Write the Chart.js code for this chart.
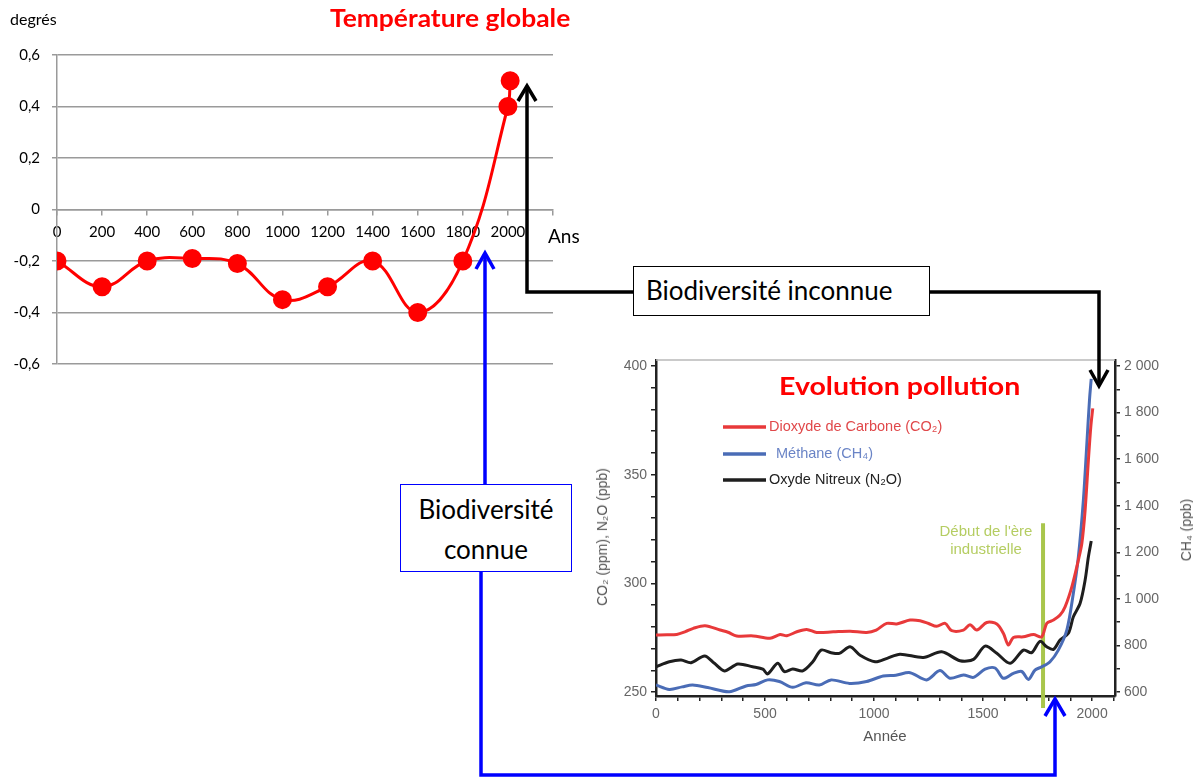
<!DOCTYPE html>
<html lang="fr">
<head>
<meta charset="utf-8">
<title>Température globale et évolution de la pollution</title>
<script src="https://cdn.jsdelivr.net/npm/chart.js@4.4.1/dist/chart.umd.min.js"></script>
<style>
  html, body { margin: 0; padding: 0; background: #ffffff; }
  #stage { position: relative; width: 1193px; height: 779px; overflow: hidden; background: #ffffff; }
  #stage canvas { position: absolute; }
  .txt { position: absolute; white-space: nowrap; line-height: 1; }
  .cal { font-family: Lato, "Open Sans", sans-serif; }
  .hel { font-family: "Liberation Sans", Arial, sans-serif; }
  .wide { transform-origin: 0 0; }
  .box { position: absolute; background: #ffffff; box-sizing: border-box; font-family: Lato, "Open Sans", sans-serif; color: #000; }
  svg { position: absolute; left: 0; top: 0; pointer-events: none; }
</style>
</head>
<body>
<div id="stage">
  <canvas id="tempChart" width="600" height="400" style="left:0;top:0"></canvas>
  <canvas id="pollChart" width="603" height="400" style="left:590px;top:340px"></canvas>

  <div class="txt cal" style="left:10px;top:11px;font-size:16px;color:#000">degrés</div>
  <div class="txt cal wide" style="left:330px;top:6px;font-size:24px;font-weight:700;color:#ff0000;transform:scaleX(1.1)">Température globale</div>
  <div class="txt cal" style="left:548px;top:226px;font-size:19px;color:#000">Ans</div>

  <div class="txt cal wide" style="left:779px;top:373px;font-size:25px;font-weight:700;color:#ff0000;transform:scaleX(1.14)">Evolution pollution</div>
  <div class="txt hel" style="left:926px;top:522px;width:120px;text-align:center;font-size:15px;line-height:18px;color:#b5cd62;white-space:normal">Début de l'ère industrielle</div>
  <div class="txt hel" style="left:602px;top:537px;font-size:14px;color:#555;transform:translate(-50%,-50%) rotate(-90deg)">CO₂ (ppm), N₂O (ppb)</div>
  <div class="txt hel" style="left:1186px;top:530px;font-size:14px;color:#555;transform:translate(-50%,-50%) rotate(-90deg)">CH₄ (ppb)</div>
  <div class="txt hel" style="left:885px;top:735px;font-size:15px;color:#555;transform:translate(-50%,-50%)">Année</div>

  <svg width="1193" height="779" viewBox="0 0 1193 779">
    <g fill="none" stroke="#000000" stroke-width="3.5">
      <polyline points="527,88 527,292 633,292"/>
      <polyline points="518,101 527,86 536,101"/>
      <polyline points="929,292 1099,292 1099,385"/>
      <polyline points="1090,370 1099,386 1108,370"/>
    </g>
    <g fill="none" stroke="#0000ff" stroke-width="3.5">
      <polyline points="485,484 485,254"/>
      <polyline points="476,269 485,253 494,269"/>
      <polyline points="481,571 481,775 1055,775 1055,700"/>
      <polyline points="1045,716 1055,699 1065,716"/>
    </g>
  </svg>

  <div class="box" style="left:633px;top:266px;width:297px;height:50px;border:1.2px solid #000;font-size:26px;line-height:47px;padding-left:12px">Biodiversité inconnue</div>
  <div class="box" style="left:400px;top:484px;width:172px;height:88px;border:1.5px solid #0000ff;font-size:26px;line-height:40px;padding-top:4px;text-align:center">Biodiversité<br>connue</div>
</div>

<script>
// ---- Température globale (écart en degrés) ----
const tempYears  = [0, 200, 400, 600, 800, 1000, 1200, 1400, 1600, 1800, 2000, 2010];
const tempValues = [-0.2, -0.3, -0.2, -0.19, -0.21, -0.35, -0.3, -0.2, -0.4, -0.2, 0.4, 0.5];
const tempXTicks = [0, 200, 400, 600, 800, 1000, 1200, 1400, 1600, 1800, 2000, 2200];
const tempYTicks = [-0.6, -0.4, -0.2, 0, 0.2, 0.4, 0.6];
const tempYLabels = ['-0,6', '-0,4', '-0,2', '0', '0,2', '0,4', '0,6'];

// ---- Evolution des gaz : CO2 (ppm), CH4 (ppb), N2O (ppb) ----
const co2Years = [0, 50, 95, 135, 171, 225, 294, 330, 370, 446, 523, 569, 600, 646, 691, 737, 813, 890, 966, 1010,
  1058, 1104, 1165, 1211, 1250, 1287, 1326, 1356, 1410, 1440, 1471, 1517, 1563, 1593, 1616, 1639, 1685, 1731, 1769,
  1792, 1823, 1853, 1876, 1907, 1937, 1953, 1968, 1983, 1994, 2003];
const co2Ppm = [276.2, 276.3, 276.5, 277.8, 279.3, 280.5, 278.5, 277.5, 275.8, 275.8, 274.7, 276.5, 275.9, 277.7, 278.8, 277.4, 277.7, 278.0, 277.4, 278.5,
  281.6, 281.3, 283.1, 282.8, 281.5, 280.2, 281.6, 278.2, 278.5, 281.0, 278.5, 282.0, 281.3, 277.0, 271.6, 275.1, 275.4, 276.4, 275.4,
  281.6, 283.1, 285.4, 289.2, 298.4, 310.7, 318.4, 333.7, 356.7, 372.0, 380.5];

const ch4Years = [0, 61, 120, 168, 237, 336, 413, 459, 512, 566, 627, 688, 749, 803, 887, 966, 1042, 1100, 1165, 1241,
  1302, 1348, 1410, 1456, 1509, 1555, 1593, 1639, 1677, 1708, 1738, 1769, 1807, 1845, 1884, 1914, 1937, 1960, 1976, 1988, 1996];
const ch4Ppb = [630, 611, 622, 630, 619, 601, 626, 632, 652, 645, 620, 640, 630, 652, 637, 645, 669, 672, 683, 652,
  692, 659, 673, 663, 698, 703, 659, 680, 688, 654, 694, 708, 730, 780, 866, 1024, 1180, 1424, 1668, 1854, 1945];

const n2oYears = [0, 61, 115, 161, 223, 268, 314, 375, 443, 490, 512, 558, 589, 627, 673, 719, 757, 803, 841, 890,
  936, 1005, 1060, 1119, 1226, 1310, 1394, 1456, 1509, 1563, 1624, 1685, 1723, 1761, 1792, 1823, 1853, 1891, 1914, 1945, 1968, 1983, 1996];
const n2oPpb = [261.6, 263.9, 264.7, 263.5, 266.6, 263.2, 259.7, 262.9, 261.6, 260.5, 258.3, 263.2, 259.4, 260.6, 259.7, 263.9, 269.3, 268.1, 267.8, 270.8,
  266.9, 263.9, 265.5, 267.4, 265.9, 268.5, 264.4, 265.0, 271.1, 267.8, 263.2, 269.3, 268.1, 273.3, 270.8, 269.6, 273.9, 277.0, 284.6, 290.8, 301.5, 312.2, 319.5];

// start of the industrial era marker (year, extent on the left axis)
const industrialYear = 1775;
const industrialSpan = [242.6, 327.7];

const pollXTicks = [0, 100, 200, 300, 400, 500, 600, 700, 800, 900, 1000, 1100, 1200, 1300, 1400, 1500, 1600, 1700, 1800, 1900, 2000, 2100];
const pollLeftTicks = [250, 260, 270, 280, 290, 300, 310, 320, 330, 340, 350, 360, 370, 380, 390, 400];
const pollRightTicks = [600, 650, 700, 750, 800, 850, 900, 950, 1000, 1050, 1100, 1150, 1200, 1250, 1300, 1350, 1400,
  1450, 1500, 1550, 1600, 1650, 1700, 1750, 1800, 1850, 1900, 1950, 2000];

const legendLabels = ['Dioxyde de Carbone (CO₂)', 'Méthane (CH₄)', 'Oxyde Nitreux (N₂O)'];

const zip = (xs, ys) => xs.map((x, i) => ({ x: x, y: ys[i] }));
const setTicks = (values) => (scale) => { scale.ticks = values.map(v => ({ value: v })); };

// ---------- Chart 1 : température ----------
const calFont = { family: 'Lato, "Open Sans", sans-serif', size: 15 };

new Chart(document.getElementById('tempChart'), {
  type: 'line',
  data: {
    datasets: [{
      data: zip(tempYears, tempValues),
      borderColor: '#ff0000',
      backgroundColor: '#ff0000',
      borderWidth: 3,
      pointRadius: 8,
      pointHoverRadius: 8,
      pointBackgroundColor: '#ff0000',
      pointBorderColor: '#ff0000',
      tension: 0.4
    }]
  },
  options: {
    responsive: false,
    animation: false,
    events: [],
    layout: { padding: { top: 55, right: 47, bottom: 36, left: 0 } },
    plugins: { legend: { display: false }, tooltip: { enabled: false } },
    scales: {
      x: {
        type: 'linear',
        min: 0,
        max: 2200,
        position: { y: 0 },
        afterFit: (s) => { s.height = 0; },
        afterBuildTicks: setTicks(tempXTicks),
        grid: { drawOnChartArea: false, drawTicks: true, tickLength: 5, color: '#9a9a9a', lineWidth: 1.5 },
        border: { color: '#9a9a9a', width: 1.5 },
        ticks: {
          autoSkip: false, maxRotation: 0, padding: 9, color: '#000', font: calFont,
          callback: (v) => (v <= 2000 ? String(v) : '')
        }
      },
      y: {
        min: -0.6,
        max: 0.6,
        afterFit: (s) => { s.width = 57; },
        afterBuildTicks: setTicks(tempYTicks),
        grid: { color: '#9a9a9a', lineWidth: 1.5, tickLength: 5 },
        border: { color: '#9a9a9a', width: 1.5 },
        ticks: {
          padding: 12, color: '#000', font: calFont,
          callback: (v) => tempYLabels[tempYTicks.findIndex(t => Math.abs(t - v) < 1e-6)]
        }
      }
    }
  }
});

// ---------- Chart 2 : évolution pollution ----------
const helFont = { family: '"Liberation Sans", Arial, sans-serif', size: 14 };
const fmtThousands = (v) => (v >= 1000 ? Math.floor(v / 1000) + ' ' + String(v % 1000).padStart(3, '0') : String(v));

const frameAndLegend = {
  id: 'frameAndLegend',
  beforeDatasetsDraw(chart) {
    const { ctx, chartArea } = chart;
    ctx.save();
    ctx.strokeStyle = '#b8b8b8';
    ctx.lineWidth = 1.5;
    ctx.beginPath();
    ctx.moveTo(chartArea.left, chartArea.top);
    ctx.lineTo(chartArea.right, chartArea.top);
    ctx.stroke();
    ctx.restore();
  },
  afterDatasetsDraw(chart) {
    const { ctx } = chart;
    const rows = [
      { ds: 0, y: 87, tx: 179, color: '#e0484a' },
      { ds: 1, y: 114, tx: 186, color: '#6a84c6' },
      { ds: 2, y: 140, tx: 179, color: '#222222' }
    ];
    ctx.save();
    ctx.font = '14.5px "Liberation Sans", Arial, sans-serif';
    ctx.textBaseline = 'middle';
    rows.forEach((r) => {
      const ds = chart.data.datasets[r.ds];
      ctx.strokeStyle = ds.borderColor;
      ctx.lineWidth = 3.5;
      ctx.beginPath();
      ctx.moveTo(133, r.y);
      ctx.lineTo(176, r.y);
      ctx.stroke();
      ctx.fillStyle = r.color;
      ctx.fillText(ds.label, r.tx, r.y);
    });
    ctx.restore();
  }
};

new Chart(document.getElementById('pollChart'), {
  type: 'line',
  data: {
    datasets: [
      { label: legendLabels[0], data: zip(co2Years, co2Ppm), yAxisID: 'y', borderColor: '#e8393a', borderWidth: 3, pointRadius: 0, tension: 0.3 },
      { label: legendLabels[1], data: zip(ch4Years, ch4Ppb), yAxisID: 'y2', borderColor: '#4a6cb6', borderWidth: 3, pointRadius: 0, tension: 0.3 },
      { label: legendLabels[2], data: zip(n2oYears, n2oPpb), yAxisID: 'y', borderColor: '#1e1e1e', borderWidth: 3, pointRadius: 0, tension: 0.3 },
      {
        label: "Début de l'ère industrielle",
        data: industrialSpan.map(v => ({ x: industrialYear, y: v })),
        yAxisID: 'y', borderColor: '#a9c64c', borderWidth: 4, pointRadius: 0, clip: false
      }
    ]
  },
  options: {
    responsive: false,
    animation: false,
    events: [],
    layout: { padding: { top: 20, right: 0, bottom: 0, left: 0 } },
    plugins: { legend: { display: false }, tooltip: { enabled: false } },
    scales: {
      x: {
        type: 'linear',
        min: 0,
        max: 2105,
        afterFit: (s) => { s.height = 44; },
        afterBuildTicks: setTicks(pollXTicks),
        grid: { drawOnChartArea: false, tickLength: 5, color: '#222', lineWidth: 1.5 },
        border: { color: '#222', width: 2.5 },
        ticks: {
          autoSkip: false, maxRotation: 0, padding: 5, color: '#666', font: helFont,
          callback: (v) => (v % 500 === 0 ? String(v) : '')
        }
      },
      y: {
        position: 'left',
        min: 248.16,
        max: 402.76,
        afterFit: (s) => { s.width = 66; },
        afterBuildTicks: setTicks(pollLeftTicks),
        grid: { drawOnChartArea: false, tickLength: 5, color: '#222', lineWidth: 1.5 },
        border: { color: '#222', width: 2.5 },
        ticks: {
          padding: 4, color: '#666', font: helFont,
          callback: (v) => (v % 50 === 0 ? String(v) : '')
        }
      },
      y2: {
        position: 'right',
        min: 582.8,
        max: 2025.8,
        afterFit: (s) => { s.width = 78; },
        afterBuildTicks: setTicks(pollRightTicks),
        grid: { drawOnChartArea: false, tickLength: 5, color: '#222', lineWidth: 1.5 },
        border: { color: '#222', width: 2.5 },
        ticks: {
          padding: 4, color: '#666', font: helFont,
          callback: (v) => (v % 200 === 0 ? fmtThousands(v) : '')
        }
      }
    }
  },
  plugins: [frameAndLegend]
});
</script>
</body>
</html>
